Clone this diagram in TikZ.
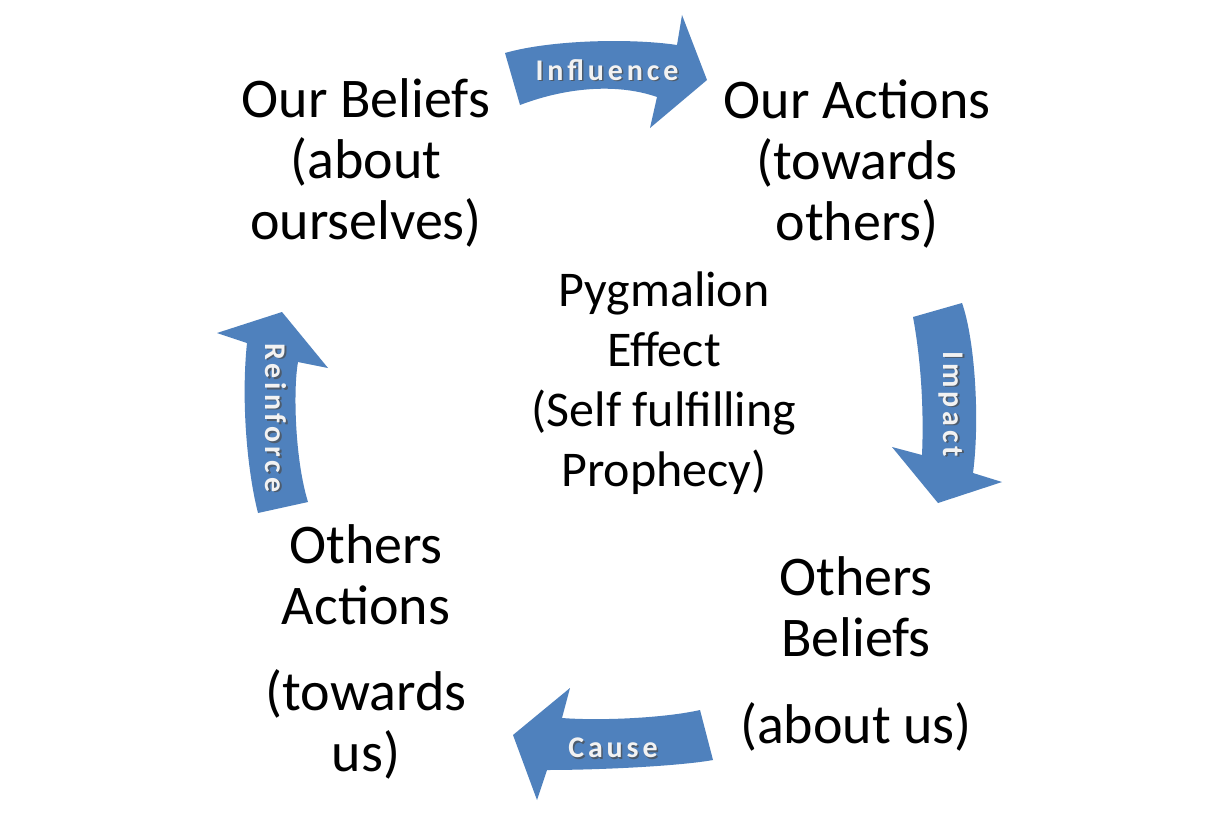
\documentclass[tikz,border=0pt]{standalone}
\usepackage{fontspec}
\setmainfont{Carlito}
\newfontfamily\arrowfont[LetterSpace=13]{Carlito}
\definecolor{arrowblue}{HTML}{4F81BD}
\begin{document}
\begin{tikzpicture}[x=1pt,y=-1pt,
  lbl/.style={align=center, font=\fontsize{56}{61}\selectfont, inner sep=0pt},
  ctr/.style={align=center, font=\fontsize{50}{60}\selectfont, inner sep=0pt},
  curvedarrow/.style={fill=arrowblue, draw=none},
  arrowtxt/.style={font=\arrowfont\bfseries\fontsize{30}{36}\selectfont, text=black!5, inner sep=0pt},
  arrowshadow/.style={font=\arrowfont\bfseries\fontsize{30}{36}\selectfont, text=black!70, inner sep=0pt, opacity=0.7}]
\fill[white] (0,0) rectangle (1221,816);
\useasboundingbox (0,0) rectangle (1221,816);

% text blocks
\node[lbl] (ourbeliefs) at (366,163) {Our Beliefs\\(about\\ourselves)};
\node[lbl] (ouractions) at (857,164) {Our Actions\\(towards\\others)};
\node[lbl] (othersbeliefs) at (856,654) {Others\\Beliefs\\[26pt](about us)};
\node[lbl] (othersactions) at (366,652) {Others\\Actions\\[25pt](towards\\us)};
\node[ctr] (pygmalion) at (664,383) {Pygmalion\\Effect\\(Self fulfilling\\Prophecy)};

% Influence arrow
\fill[curvedarrow] (505,53) .. controls (550,40) and (630,38) .. (677,45) -- (682,15) -- (707,80) -- (650,128) -- (657,97)
  .. controls (620,84) and (570,86) .. (520,105) -- cycle;
\node[arrowshadow] at (608.5,71.5) {Influence};
\node[arrowtxt] (influence) at (607,70) {Influence};

% Impact arrow
\fill[curvedarrow] (913,317) -- (962,303) .. controls (975,340) and (980,420) .. (973,473) -- (1002,482) -- (938,503) -- (892,447) -- (922,455)
  .. controls (924,410) and (921,360) .. (913,317) -- cycle;
\node[arrowshadow, rotate=-90] at (952.5,405.5) {Impact};
\node[arrowtxt, rotate=-90] (impact) at (951,404) {Impact};

% Cause arrow
\fill[curvedarrow] (700,710) -- (713,760) .. controls (680,766) and (600,770) .. (547,770) -- (537,800) -- (513,735) -- (570,688) -- (562,718)
  .. controls (600,721) and (665,718) .. (700,710) -- cycle;
\node[arrowshadow] at (614.5,749.5) {Cause};
\node[arrowtxt] (cause) at (613,748) {Cause};

% Reinforce arrow
\fill[curvedarrow] (258,513) .. controls (247,470) and (241,400) .. (247,343) -- (217,333) -- (282,312) -- (328,368) -- (298,362)
  .. controls (293,390) and (295,460) .. (308,502) -- cycle;
\node[arrowshadow, rotate=-90] at (277.5,419.5) {Reinforce};
\node[arrowtxt, rotate=-90] (reinforce) at (276,418) {Reinforce};
\end{tikzpicture}
\end{document}
